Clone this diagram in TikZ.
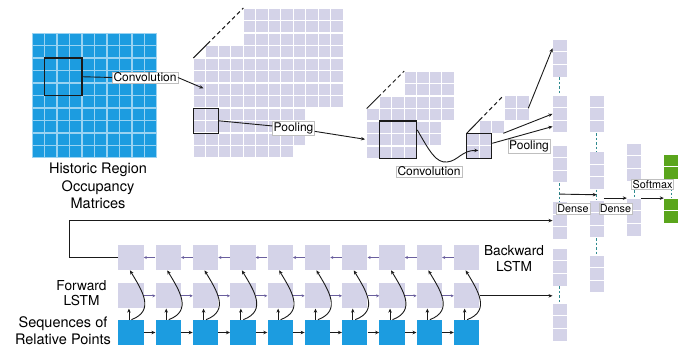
\documentclass[tikz,border=0pt]{standalone}
\usepackage{fontspec}
\setmainfont{TeX Gyre Heros}
\usetikzlibrary{arrows.meta,calc}
\definecolor{cellblue}{HTML}{1C9CE0}
\definecolor{bluegap}{HTML}{9AD3F2}
\definecolor{cellgrey}{HTML}{D4D3E8}
\definecolor{cellgreen}{HTML}{5AA51C}
\definecolor{dashteal}{HTML}{2E8A8E}
\definecolor{lstmarrow}{HTML}{6A5F9E}
\definecolor{linecol}{HTML}{1A1A1A}
\newcommand\gridrows[6]{%
  \foreach \r in {#3}{\foreach \c in {#4,...,#5}{%
    \fill[#6] ({#1+\c*12.5+0.6},{#2+\r*12.5+0.6}) rectangle ({#1+(\c+1)*12.5-0.6},{#2+(\r+1)*12.5-0.6});}}}
\newcommand\colblock[5]{%
  \node[blk, minimum height={#4*12.6pt}] (#1) at (#2,{#3+#4*6.3}) {};
  \foreach \i in {1,...,#4}{\fill[#5] ({#2-7},{#3+(\i-1)*12.6+0.5}) rectangle ({#2+7},{#3+\i*12.6-0.5});}}
\tikzset{
  lbl/.style={draw=black!25, fill=white, inner sep=1.2pt, font=\fontsize{12}{14}\selectfont},
  smalllbl/.style={lbl, font=\fontsize{10.8}{12}\selectfont},
  biglbl/.style={align=center, inner sep=0pt, font=\fontsize{14.5}{17.3}\selectfont},
  midlbl/.style={align=center, inner sep=0pt, font=\fontsize{13.7}{15.7}\selectfont},
  selbox/.style={draw=linecol, line width=1.1pt, minimum size=#1, inner sep=0pt},
  plainline/.style={draw=linecol, line width=0.9pt},
  conn/.style={draw=linecol, line width=0.9pt, -{Stealth[length=4pt,width=3.5pt]}},
  lstmarr/.style={draw=lstmarrow, line width=0.8pt, -{Stealth[length=3pt,width=3pt]}},
  dashc/.style={draw=dashteal, line width=0.9pt, dash pattern=on 2.5pt off 2pt},
  diag/.style={draw=linecol, line width=1pt},
  lstmcell/.style={fill=cellgrey, minimum size=25.3pt, inner sep=0pt},
  seqcell/.style={fill=cellblue, minimum size=25.3pt, inner sep=0pt},
  blk/.style={minimum width=14pt, inner sep=0pt}
}
\begin{document}
\begin{tikzpicture}[x=1pt,y=-1pt]
\useasboundingbox (0,0) rectangle (692,353);
\fill[white] (0,0) rectangle (692,353);

% input grid
\fill[bluegap] (32,33) rectangle (157,158);
\gridrows{32}{33}{0,...,9}{0}{9}{cellblue}

% feature map 1
\gridrows{193.3}{8}{0,1,2}{4}{11}{cellgrey}
\gridrows{193.3}{8}{3}{1}{11}{cellgrey}
\gridrows{193.3}{8}{4,5,6,7}{0}{11}{cellgrey}
\gridrows{193.3}{8}{8,9,10}{0}{8}{cellgrey}
\gridrows{193.3}{8}{11}{0}{7}{cellgrey}
% feature map 2
\gridrows{366.7}{71}{0,1}{3}{6}{cellgrey}
\gridrows{366.7}{71}{2}{1}{6}{cellgrey}
\gridrows{366.7}{71}{3}{0}{6}{cellgrey}
\gridrows{366.7}{71}{4,5}{0}{5}{cellgrey}
\gridrows{366.7}{71}{6}{0}{3}{cellgrey}
% feature map 3
\gridrows{466.7}{95.8}{0,1}{3}{4}{cellgrey}
\gridrows{466.7}{95.8}{2}{1}{2}{cellgrey}
\gridrows{466.7}{95.8}{3,4}{0}{1}{cellgrey}

% depth lines
\coordinate (d1a) at (193.3,58); \coordinate (d1b) at (243.3,8);
\coordinate (d2a) at (366.7,108.5); \coordinate (d2b) at (404.2,71);
\coordinate (d3a) at (466.7,133.3); \coordinate (d3b) at (503.3,95.8);
\draw[diag] (d1a) -- ($(d1a)!0.28!(d1b)$);
\draw[diag, dash pattern=on 4pt off 3pt] ($(d1a)!0.28!(d1b)$) -- (d1b);
\draw[diag] (d2a) -- ($(d2a)!0.3!(d2b)$);
\draw[diag, dash pattern=on 4pt off 3pt] ($(d2a)!0.3!(d2b)$) -- (d2b);
\draw[diag] (d3a) -- ($(d3a)!0.35!(d3b)$);
\draw[diag, dash pattern=on 4pt off 3pt] ($(d3a)!0.35!(d3b)$) -- (d3b);

% selection boxes
\node[selbox=37.5pt] (cbox1) at (63.25,76.75) {};
\node[selbox=25pt] (gbox1) at (205.8,120.8) {};
\node[selbox=37.5pt] (cbox2) at (397.95,139.75) {};
\node[selbox=25pt] (pbox3) at (479.2,145.8) {};

% dense columns
\colblock{A}{559.7}{39.3}{3}{cellgrey}
\colblock{B}{559.7}{95}{3}{cellgrey}
\colblock{C}{559.7}{145}{3}{cellgrey}
\colblock{D}{559.7}{201.7}{3}{cellgrey}
\colblock{E}{559.7}{248.3}{3}{cellgrey}
\colblock{F}{559.7}{303.3}{3}{cellgrey}
\colblock{G}{596.7}{95}{3}{cellgrey}
\colblock{H}{596.7}{151.7}{3}{cellgrey}
\colblock{I}{596.7}{200}{3}{cellgrey}
\colblock{J}{596.7}{255}{3}{cellgrey}
\colblock{K}{634}{143.3}{3}{cellgrey}
\colblock{L}{634}{198.3}{3}{cellgrey}
\colblock{M}{671}{154}{2}{cellgreen}
\colblock{N}{671}{198.3}{2}{cellgreen}
\draw[dashc] (A.south) -- (B.north);
\draw[dashc] (C.south) -- (D.north);
\draw[dashc] (E.south) -- (F.north);
\draw[dashc] (G.south) -- (H.north);
\draw[dashc] (H.south) -- (I.north);
\draw[dashc] (I.south) -- (J.north);
\draw[dashc] (K.south) -- (L.north);
\draw[dashc] (M.south) -- (N.north);

% LSTM cells
\foreach \k in {0,...,9}{
  \pgfmathsetmacro\xc{130.95+37.3*\k}
  \node[lstmcell] (b\k) at (\xc,257.5) {};
  \node[lstmcell] (f\k) at (\xc,295.8) {};
  \node[seqcell] (s\k) at (\xc,332.5) {};
}
\foreach \k [evaluate=\k as \j using int(\k+1)] in {0,...,8}{
  \draw[lstmarr] (b\j.west) -- (b\k.east);
  \draw[lstmarr] (f\k.east) -- (f\j.west);
  \draw[conn] (s\k.east) -- (s\j.west);
}
\foreach \k in {0,...,9}{
  \draw[conn] ([xshift=-2pt]s\k.north) -- ([xshift=-2pt]f\k.south);
  \draw[conn] ([xshift=0.5pt]s\k.north) .. controls +(24,-9) and +(12,20) .. ([xshift=-1pt]b\k.south);
}

% labels
\node[lbl] (conv1) at (145,77.5) {Convolution};
\node[lbl] (pool1) at (293.5,128) {Pooling};
\node[lbl] (conv2) at (429,171.5) {Convolution};
\node[lbl] (pool2) at (529,146.5) {Pooling};
\node[smalllbl] (dense1) at (573,208.5) {Dense};
\node[smalllbl] (dense2) at (615.5,208.5) {Dense};
\node[smalllbl] (softmax) at (652.5,184.3) {Softmax};
\node[biglbl] (hist) at (98,186) {Historic Region\\Occupancy\\Matrices};
\node[midlbl] (fwd) at (81.5,293) {Forward\\LSTM};
\node[midlbl] (bwd) at (514,258.5) {Backward\\LSTM};
\node[biglbl] (seqlbl) at (63,330.5) {Sequences of\\Relative Points};

% CNN connectors
\coordinate (g1tip) at (203.3,88.3);
\coordinate (g2tip) at (365,139.3);
\coordinate (g3tip) at (478.3,150.5);
\draw[plainline] (cbox1.east) -- (conv1.west);
\draw[conn] (conv1.east) -- (g1tip);
\draw[plainline] (gbox1.east) -- (pool1);
\draw[conn] (pool1) -- (g2tip);
\draw[conn] (cbox2.27) .. controls (430,152) and (436,163) .. (447,162) .. controls (458,161) and (462,150) .. (g3tip);
\coordinate (g3a) at (528.3,108.3);
\coordinate (g3b) at (503.3,133.3);
\draw[conn] (g3a) -- ([yshift=9.9pt]A.west);
\draw[conn] (g3b) -- (B.west);
\draw[conn] ([yshift=2.5pt]pbox3.east) -- ([yshift=-12.6pt]B.west);

% LSTM outputs
\coordinate (topcorner) at (69.3,257.5);
\draw[conn] (b0.west) -- (topcorner) |- (D.west);
\draw[conn] (f9.east) -- (f9.east -| E.west);

% dense connectors
\draw[conn] ($(C.south)!0.6!(D.north)$) -- ($(H.south)!0.5!(I.north)$);
\draw[conn] (I.north east |- L.north west) -- (L.north west);
\draw[conn] (L.north east) -- (N.north west);
\end{tikzpicture}
\end{document}
